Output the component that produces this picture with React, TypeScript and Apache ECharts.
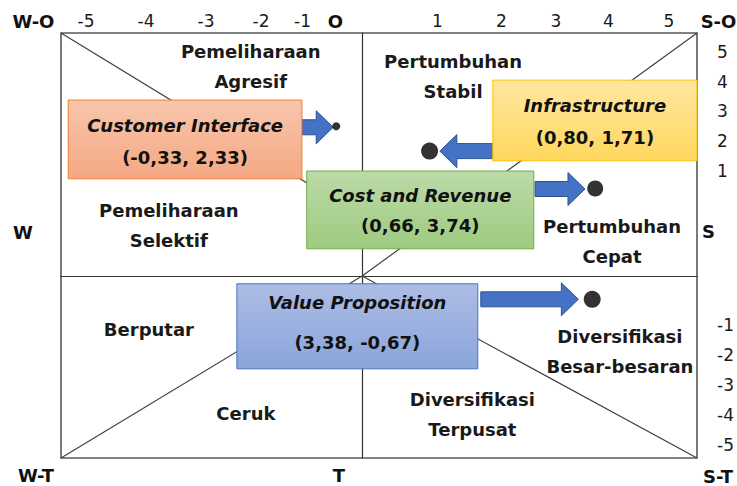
import React, { useEffect, useRef } from "react";
import * as echarts from "echarts";

// ---------- data ----------
const strategyNames = ["Customer Interface", "Infrastructure", "Cost and Revenue", "Value Proposition"];
const strategyX = [-0.33, 0.8, 0.66, 3.38];
const strategyY = [2.33, 1.71, 3.74, -0.67];
// black dots as placed in the picture (plot units)
const dotX = [-0.43, 1.12, 3.87, 3.82];
const dotY = [3.08, 2.57, 1.8, -0.48];

const quadrantLabels = [
  "Pemeliharaan\nAgresif",
  "Pertumbuhan\nStabil",
  "Pemeliharaan\nSelektif",
  "Pertumbuhan\nCepat",
  "Berputar",
  "Ceruk",
  "Diversifikasi\nTerpusat",
  "Diversifikasi\nBesar-besaran",
];

const topTickLabels = ["-5", "-4", "-3", "-2", "-1", "1", "2", "3", "4", "5"];
const rightTickLabels = ["5", "4", "3", "2", "1", "-1", "-2", "-3", "-4", "-5"];
const cornerLabels = ["W-O", "O", "S-O", "W", "S", "W-T", "T", "S-T"];

// ---------- layout (plot units / pixels) ----------
const X_MIN = -5;
const X_MAX = 5.56;
const Y_MIN = -3.745;
const Y_MAX = 5;

const boxRects = [
  [-4.88, 3.62, -1.0, 2.0],
  [2.17, 4.03, 5.56, 2.37],
  [-0.92, 2.16, 2.85, 0.56],
  [-2.08, -0.16, 1.92, -1.91],
];
const boxTextOffsets = [
  [-14, 18.5],
  [-15, 17.5],
  [-14.5, 16],
  [-24, 16],
];
const boxFills = [
  ["#f8c6ad", "#f4a883", "#ed7d31"],
  ["#ffe7a0", "#ffd75e", "#ffc000"],
  ["#bcdaa8", "#9ecb80", "#70ad47"],
  ["#adbde4", "#8aa5db", "#4472c4"],
];
const arrowSegs = [
  [-1.0, 3.06, -0.48, 3.06],
  [2.17, 2.57, 1.29, 2.57],
  [2.87, 1.79, 3.7, 1.79],
  [1.97, -0.48, 3.59, -0.48],
];
const dotSizes = [8, 17, 16, 17];
const quadrantPos = [
  [-1.85, 4.32],
  [1.51, 4.1],
  [-3.21, 1.04],
  [4.15, 0.71],
  [-3.54, -1.11],
  [-1.93, -2.83],
  [1.83, -2.84],
  [4.28, -1.55],
];
const diagonals = [
  [X_MIN, Y_MAX, -0.37, 1.5],
  [X_MAX, Y_MAX, 0, 0],
  [X_MIN, Y_MIN, 0, 0],
  [X_MAX, Y_MIN, 0, 0],
];
const topTickX = [86, 146, 206, 261, 302.5, 437.5, 501.5, 556, 608.5, 669];
const rightTickY = [51.5, 81.5, 111, 141, 171, 325, 355, 384.5, 414.5, 444.5];
const cornerPos = [
  [33.5, 21, "center"],
  [335.5, 21, "center"],
  [718.5, 21, "center"],
  [23, 232.5, "center"],
  [702, 231.5, "left"],
  [36, 475, "center"],
  [339, 475, "center"],
  [718, 476, "center"],
];

const FONT = "'DejaVu Sans', sans-serif";
const INK = "#1a1a1a";

const fmt = (v: number) => v.toFixed(2).replace(".", ",");

export default function App() {
  const ref = useRef<HTMLDivElement>(null);

  useEffect(() => {
    if (!ref.current) return;
    const chart = echarts.init(ref.current, undefined, { renderer: "svg" });

    const graphics: any[] = [];
    topTickLabels.forEach((t, i) => {
      graphics.push({
        type: "text",
        x: topTickX[i],
        y: 21,
        style: { text: t, fontFamily: FONT, fontSize: 17, fill: INK, align: "center", verticalAlign: "middle" },
      });
    });
    rightTickLabels.forEach((t, i) => {
      graphics.push({
        type: "text",
        x: 717,
        y: rightTickY[i],
        style: { text: t, fontFamily: FONT, fontSize: 17, fill: INK, align: "left", verticalAlign: "middle" },
      });
    });
    cornerLabels.forEach((t, i) => {
      const p = cornerPos[i];
      graphics.push({
        type: "text",
        x: p[0],
        y: p[1],
        style: {
          text: t,
          fontFamily: FONT,
          fontSize: 18,
          fontWeight: "bold",
          fill: "#111",
          align: p[2],
          verticalAlign: "middle",
        },
      });
    });

    const option: any = {
      animation: false,
      backgroundColor: "#ffffff",
      grid: {
        left: 61,
        top: 33,
        width: 636,
        height: 425,
        show: true,
        borderColor: "#595959",
        borderWidth: 1.6,
        backgroundColor: "transparent",
      },
      xAxis: {
        type: "value",
        min: X_MIN,
        max: X_MAX,
        axisLine: { show: true, onZero: true, lineStyle: { color: "#333", width: 1.2 } },
        axisTick: { show: false },
        axisLabel: { show: false },
        splitLine: { show: false },
      },
      yAxis: {
        type: "value",
        min: Y_MIN,
        max: Y_MAX,
        axisLine: { show: true, onZero: true, lineStyle: { color: "#333", width: 1.2 } },
        axisTick: { show: false },
        axisLabel: { show: false },
        splitLine: { show: false },
      },
      graphic: graphics,
      series: [
        {
          type: "custom",
          name: "diagonals",
          z: 1,
          silent: true,
          data: diagonals.map((d, i) => [d[0], d[1], i]),
          renderItem: (params: any, api: any) => {
            const d = diagonals[params.dataIndex];
            const a = api.coord([d[0], d[1]]);
            const b = api.coord([d[2], d[3]]);
            return {
              type: "line",
              shape: { x1: a[0], y1: a[1], x2: b[0], y2: b[1] },
              style: { stroke: "#404040", lineWidth: 1.2 },
            };
          },
        },
        {
          type: "custom",
          name: "quadrants",
          z: 2,
          silent: true,
          data: quadrantLabels.map((_, i) => [quadrantPos[i][0], quadrantPos[i][1]]),
          renderItem: (params: any, api: any) => {
            const i = params.dataIndex;
            const p = api.coord([api.value(0), api.value(1)]);
            return {
              type: "text",
              x: p[0],
              y: p[1],
              style: {
                text: quadrantLabels[i],
                fontFamily: FONT,
                fontSize: 18,
                fontWeight: "bold",
                fill: INK,
                align: "center",
                verticalAlign: "middle",
                lineHeight: 30,
              },
            };
          },
        },
        {
          type: "custom",
          name: "arrows",
          z: 3,
          silent: true,
          data: arrowSegs.map((s, i) => [s[0], s[1], i]),
          renderItem: (params: any, api: any) => {
            const s = arrowSegs[params.dataIndex];
            const a = api.coord([s[0], s[1]]);
            const b = api.coord([s[2], s[3]]);
            const dir = b[0] >= a[0] ? 1 : -1;
            const sh = 7.5;
            const hh = 16.5;
            const hl = 17;
            const y = a[1];
            const hx = b[0] - dir * hl;
            return {
              type: "polygon",
              shape: {
                points: [
                  [a[0], y - sh],
                  [hx, y - sh],
                  [hx, y - hh],
                  [b[0], y],
                  [hx, y + hh],
                  [hx, y + sh],
                  [a[0], y + sh],
                ],
              },
              style: { fill: "#4472c4", stroke: "#2f528f", lineWidth: 1 },
            };
          },
        },
        {
          type: "custom",
          name: "boxes",
          z: 4,
          silent: true,
          data: strategyNames.map((_, i) => [strategyX[i], strategyY[i], i]),
          renderItem: (params: any, api: any) => {
            const i = params.dataIndex;
            const r = boxRects[i];
            const p1 = api.coord([r[0], r[1]]);
            const p2 = api.coord([r[2], r[3]]);
            const x = p1[0];
            const y = p1[1];
            const w = p2[0] - p1[0];
            const h = p2[1] - p1[1];
            const cx = x + w / 2;
            const cy = y + h / 2;
            const c = boxFills[i];
            const label = "(" + fmt(api.value(0)) + ", " + fmt(api.value(1)) + ")";
            return {
              type: "group",
              children: [
                {
                  type: "rect",
                  shape: { x, y, width: w, height: h },
                  style: {
                    fill: new echarts.graphic.LinearGradient(0, 0, 0, 1, [
                      { offset: 0, color: c[0] },
                      { offset: 1, color: c[1] },
                    ]),
                    stroke: c[2],
                    lineWidth: 1,
                  },
                },
                {
                  type: "text",
                  x: cx,
                  y: cy + boxTextOffsets[i][0],
                  style: {
                    text: strategyNames[i],
                    fontFamily: FONT,
                    fontSize: 18,
                    fontWeight: "bold",
                    fontStyle: "italic",
                    fill: "#111",
                    align: "center",
                    verticalAlign: "middle",
                  },
                },
                {
                  type: "text",
                  x: cx,
                  y: cy + boxTextOffsets[i][1],
                  style: {
                    text: label,
                    fontFamily: FONT,
                    fontSize: 18,
                    fontWeight: "bold",
                    fill: "#111",
                    align: "center",
                    verticalAlign: "middle",
                  },
                },
              ],
            };
          },
        },
        {
          type: "scatter",
          name: "dots",
          z: 5,
          silent: true,
          symbol: "circle",
          itemStyle: { color: "#000" },
          data: dotX.map((x, i) => ({ value: [x, dotY[i]], symbolSize: dotSizes[i] })),
        },
      ],
    };

    chart.setOption(option);
    return () => chart.dispose();
  }, []);

  return (
    <div
      ref={ref}
      style={{ position: "fixed", left: 0, top: 0, width: 737, height: 486, background: "#fff" }}
    />
  );
}
